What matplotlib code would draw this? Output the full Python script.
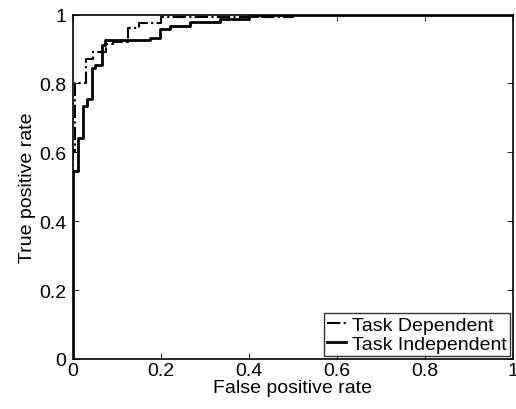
import matplotlib
matplotlib.use('Agg')
import matplotlib.pyplot as plt

# --- ROC curve vertices (staircase points)
fpr_dep = [0, 0, 0.005, 0.005, 0.03, 0.03, 0.045, 0.045, 0.075, 0.075, 0.09, 0.09,
           0.125, 0.125, 0.15, 0.15, 0.2, 0.2, 0.5, 0.5, 1.0]
tpr_dep = [0, 0.6, 0.6, 0.8, 0.8, 0.87, 0.87, 0.89, 0.89, 0.915, 0.915, 0.92,
           0.92, 0.96, 0.96, 0.975, 0.975, 0.993, 0.993, 1.0, 1.0]

fpr_ind = [0, 0, 0.011, 0.011, 0.022, 0.022, 0.031, 0.031, 0.044, 0.044, 0.05, 0.05,
           0.065, 0.065, 0.073, 0.073, 0.175, 0.175, 0.198, 0.198, 0.22, 0.22,
           0.266, 0.266, 0.334, 0.334, 0.40, 0.40, 0.42, 0.42, 1.0]
tpr_ind = [0, 0.545, 0.545, 0.643, 0.643, 0.734, 0.734, 0.754, 0.754, 0.846, 0.846, 0.855,
           0.855, 0.913, 0.913, 0.925, 0.925, 0.932, 0.932, 0.957, 0.957, 0.966,
           0.966, 0.979, 0.979, 0.988, 0.988, 0.995, 0.995, 1.0, 1.0]

ticks = [0, 0.2, 0.4, 0.6, 0.8, 1]
tick_labels = ['0', '0.2', '0.4', '0.6', '0.8', '1']

plt.rcParams['font.family'] = ['Liberation Sans', 'DejaVu Sans']
fs = 14

fig = plt.figure(figsize=(5.16, 4.10), dpi=100)
ax = fig.add_axes([0.1415, 0.122, 0.8525, 0.840])

ax.plot(fpr_dep, tpr_dep, color='black', linestyle='-.', linewidth=1.5, label='Task Dependent')
ax.plot(fpr_ind, tpr_ind, color='black', linestyle='-', linewidth=2.0, label='Task Independent')

ax.set_xlim(0, 1)
ax.set_ylim(0, 1)
ax.set_xticks(ticks)
ax.set_xticklabels(tick_labels)
ax.set_yticks(ticks)
ax.set_yticklabels(tick_labels)
ax.tick_params(direction='in', top=True, right=True, length=4, width=0.6,
               labelsize=fs)
ax.tick_params(axis='x', pad=2)
ax.tick_params(axis='y', pad=5)
for s in ax.spines.values():
    s.set_linewidth(1.2)

ax.set_xlabel('False positive rate', fontsize=fs, labelpad=0)
ax.set_ylabel('True positive rate', fontsize=fs, labelpad=2)

leg = ax.legend(loc='lower right', fontsize=fs, frameon=True, fancybox=False,
                edgecolor='black', handlelength=1.0, handletextpad=0.3,
                borderpad=0.15, labelspacing=0.1, borderaxespad=0.15)
leg.get_frame().set_linewidth(1.0)

fig.savefig('out.png', dpi=100)
